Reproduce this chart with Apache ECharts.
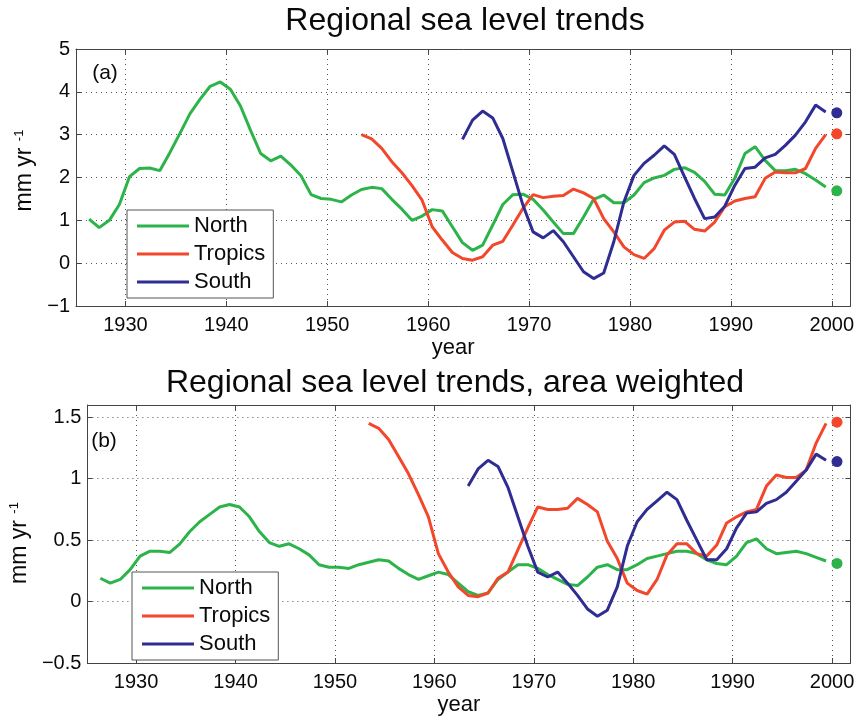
<!DOCTYPE html>
<html>
<head>
<meta charset="utf-8">
<script src="https://cdn.jsdelivr.net/npm/echarts@6/dist/echarts.min.js"></script>
<style>
  html, body { margin: 0; padding: 0; background: #fff; }
  #chart { width: 857px; height: 722px; }
</style>
</head>
<body>
<div id="chart"></div>
<script>
// yearly values
const northStart = 1926;
const tropicsStart = 1953;
const southStart = 1963;

// (a) plain regional trends, mm/yr
const northA = [1.03, 0.83, 1.0, 1.37, 2.02, 2.21, 2.22, 2.16, 2.58, 3.03,
  3.49, 3.83, 4.13, 4.23, 4.06, 3.67, 3.1, 2.56, 2.39, 2.5,
  2.29, 2.04, 1.6, 1.51, 1.49, 1.43, 1.59, 1.72, 1.77, 1.74,
  1.49, 1.26, 1.0, 1.1, 1.25, 1.22, 0.85, 0.48, 0.3, 0.42,
  0.89, 1.37, 1.6, 1.61, 1.49, 1.24, 0.96, 0.69, 0.69, 1.08,
  1.49, 1.59, 1.41, 1.41, 1.59, 1.88, 1.99, 2.05, 2.19, 2.23,
  2.12, 1.91, 1.61, 1.59, 1.99, 2.56, 2.72, 2.4, 2.16, 2.16,
  2.19, 2.09, 1.94, 1.78];
const tropicsA = [3.0, 2.9, 2.68, 2.37, 2.11, 1.81, 1.47, 0.85, 0.54, 0.25,
  0.11, 0.07, 0.15, 0.42, 0.51, 0.89, 1.28, 1.6, 1.53, 1.56,
  1.58, 1.73, 1.64, 1.51, 1.04, 0.73, 0.38, 0.2, 0.11, 0.34,
  0.77, 0.96, 0.98, 0.79, 0.75, 0.96, 1.32, 1.45, 1.51, 1.55,
  1.98, 2.13, 2.11, 2.11, 2.21, 2.68, 3.0];
const southA = [2.89, 3.34, 3.55, 3.39, 2.91, 2.13, 1.35, 0.73, 0.59, 0.76,
  0.5, 0.15, -0.2, -0.36, -0.23, 0.5, 1.43, 2.05, 2.33, 2.52,
  2.74, 2.54, 2.02, 1.51, 1.04, 1.08, 1.33, 1.82, 2.21, 2.24,
  2.46, 2.54, 2.75, 2.99, 3.3, 3.69, 3.53];
const endA = [1.69, 3.02, 3.51]; // North, Tropics, South

// (b) area weighted, mm/yr
const northB = [0.19, 0.15, 0.18, 0.26, 0.37, 0.41, 0.41, 0.4, 0.47, 0.57,
  0.65, 0.71, 0.77, 0.79, 0.77, 0.69, 0.57, 0.48, 0.45, 0.47,
  0.43, 0.38, 0.3, 0.28, 0.28, 0.27, 0.3, 0.32, 0.34, 0.33,
  0.27, 0.22, 0.18, 0.21, 0.24, 0.22, 0.15, 0.08, 0.05, 0.07,
  0.18, 0.24, 0.3, 0.3, 0.27, 0.22, 0.18, 0.14, 0.13, 0.2,
  0.28, 0.3, 0.26, 0.26, 0.3, 0.35, 0.37, 0.39, 0.41, 0.41,
  0.39, 0.34, 0.31, 0.3, 0.37, 0.48, 0.51, 0.43, 0.39, 0.4,
  0.41, 0.39, 0.36, 0.33];
const tropicsB = [1.45, 1.41, 1.32, 1.18, 1.04, 0.87, 0.69, 0.39, 0.24, 0.12,
  0.05, 0.04, 0.07, 0.19, 0.24, 0.42, 0.6, 0.77, 0.75, 0.75,
  0.76, 0.84, 0.79, 0.73, 0.49, 0.35, 0.15, 0.09, 0.06, 0.18,
  0.38, 0.47, 0.47, 0.39, 0.37, 0.46, 0.64, 0.69, 0.73, 0.75,
  0.94, 1.03, 1.01, 1.01, 1.07, 1.29, 1.45];
const southB = [0.94, 1.08, 1.15, 1.1, 0.93, 0.69, 0.45, 0.24, 0.2, 0.24,
  0.15, 0.05, -0.06, -0.12, -0.07, 0.12, 0.45, 0.65, 0.75, 0.82,
  0.89, 0.83, 0.66, 0.5, 0.34, 0.34, 0.43, 0.6, 0.72, 0.73,
  0.8, 0.83, 0.89, 0.98, 1.07, 1.2, 1.15];
const endB = [0.31, 1.46, 1.14];
const endYear = 2000.5;

const names = ['North', 'Tropics', 'South'];
const colors = ['#2cb34a', '#f2472a', '#2f2c92'];

const FONT = '"Liberation Sans", Arial, Helvetica, sans-serif';
const AX = '#444';
const INK = '#0a0a0a';
const YEAR_OFFSET = 0.4; // points sit a little after the start of each year

function pairs(start, vals) {
  return vals.map((v, i) => [start + i + YEAR_OFFSET, v]);
}

function fmt(v) {
  const s = String(+v.toFixed(2));
  return v < 0 ? '\u2212' + s.slice(1) : s;
}

function xAxes(g) {
  const base = {
    type: 'value', gridIndex: g, min: 1925.1, max: 2001.85,
    splitNumber: 8, minInterval: 10, maxInterval: 10
  };
  return [
    Object.assign({}, base, {
      position: 'bottom',
      axisLine: { show: true, onZero: false, lineStyle: { color: AX } },
      axisTick: { show: true, inside: true, length: 5, lineStyle: { color: AX } },
      axisLabel: {
        margin: 9, fontSize: 20, color: INK, fontFamily: FONT,
        formatter: v => Math.abs(v - Math.round(v / 10) * 10) < 1e-6 ? String(Math.round(v)) : ''
      },
      splitLine: { show: true, lineStyle: { color: '#555', type: [1, 4], width: 1 } },
      name: 'year', nameLocation: 'middle', nameGap: 31,
      nameTextStyle: { fontSize: 22, color: INK, fontFamily: FONT, padding: [0, 20, 0, 0] }
    }),
    Object.assign({}, base, {
      position: 'top',
      axisLine: { show: true, onZero: false, lineStyle: { color: AX } },
      axisTick: { show: true, inside: true, length: 5, lineStyle: { color: AX } },
      axisLabel: { show: false },
      splitLine: { show: false }
    })
  ];
}

// namePad nudges the rotated unit label along the axis
function yAxes(g, min, max, step, namePad) {
  const base = { type: 'value', gridIndex: g, min: min, max: max, interval: step };
  const onStep = v => Math.abs(v / step - Math.round(v / step)) < 1e-6;
  return [
    Object.assign({}, base, {
      position: 'left',
      axisLine: { show: true, onZero: false, lineStyle: { color: AX } },
      axisTick: { show: true, inside: true, length: 5, lineStyle: { color: AX } },
      axisLabel: {
        margin: 6, fontSize: 20, color: INK, fontFamily: FONT,
        formatter: v => onStep(v) ? fmt(v) : ''
      },
      splitLine: { show: true, lineStyle: { color: '#555', type: [1, 4], width: 1 } },
      name: '{b|mm yr }{s|-1}', nameLocation: 'middle', nameRotate: 90, nameGap: 40,
      nameTextStyle: {
        color: INK, fontFamily: FONT, padding: namePad,
        rich: {
          b: { fontSize: 23, fontFamily: FONT, color: INK },
          s: { fontSize: 13, fontFamily: FONT, color: INK, verticalAlign: 'top', lineHeight: 22 }
        }
      }
    }),
    Object.assign({}, base, {
      position: 'right',
      axisLine: { show: true, onZero: false, lineStyle: { color: AX } },
      axisTick: { show: true, inside: true, length: 5, lineStyle: { color: AX } },
      axisLabel: { show: false },
      splitLine: { show: false }
    })
  ];
}

function panelSeries(g, sets, ends) {
  const out = [];
  sets.forEach((s, k) => {
    out.push({
      type: 'line', name: names[k], xAxisIndex: g * 2, yAxisIndex: g * 2,
      data: pairs(s[0], s[1]), showSymbol: false, symbol: 'none',
      lineStyle: { width: 3, color: colors[k] }, itemStyle: { color: colors[k] },
      z: 3 + k
    });
    out.push({
      type: 'scatter', name: names[k], xAxisIndex: g * 2, yAxisIndex: g * 2,
      data: [[endYear, ends[k]]], symbolSize: 11,
      itemStyle: { color: colors[k], opacity: 1 }, z: 6
    });
  });
  return out;
}

function legend(left, top) {
  return {
    orient: 'vertical', left: left, top: top,
    data: names.map(n => ({ name: n, icon: 'rect' })),
    itemWidth: 52, itemHeight: 3, itemGap: 6,
    padding: [5, 8, 5, 10],
    backgroundColor: '#fff', borderColor: '#555', borderWidth: 1,
    selectedMode: false,
    textStyle: { fontSize: 22, color: INK, fontFamily: FONT }
  };
}

const chart = echarts.init(document.getElementById('chart'), null, { renderer: 'canvas' });

chart.setOption({
  animation: false,
  backgroundColor: '#fff',
  grid: [
    { left: 76, top: 49, width: 776, height: 257 },
    { left: 76, top: 405, width: 776, height: 258 }
  ],
  xAxis: xAxes(0).concat(xAxes(1)),
  yAxis: yAxes(0, -1, 5, 1, [0, 0, 0, 14]).concat(yAxes(1, -0.5, 1.6, 0.5, [0, 18, 0, 0])),
  legend: [legend(127, 210), legend(132, 572)],
  series: panelSeries(0, [[northStart, northA], [tropicsStart, tropicsA], [southStart, southA]], endA)
    .concat(panelSeries(1, [[northStart, northB], [tropicsStart, tropicsB], [southStart, southB]], endB)),
  graphic: [
    { type: 'text', x: 465, y: 21, style: { text: 'Regional sea level trends', font: '32px ' + FONT, fill: INK, textAlign: 'center', textVerticalAlign: 'middle' } },
    { type: 'text', x: 455, y: 383, style: { text: 'Regional sea level trends, area weighted', font: '32px ' + FONT, fill: INK, textAlign: 'center', textVerticalAlign: 'middle' } },
    { type: 'text', x: 105, y: 73, style: { text: '(a)', font: '21px ' + FONT, fill: INK, textAlign: 'center', textVerticalAlign: 'middle' } },
    { type: 'text', x: 104, y: 441, style: { text: '(b)', font: '21px ' + FONT, fill: INK, textAlign: 'center', textVerticalAlign: 'middle' } }
  ]
});
</script>
</body>
</html>
